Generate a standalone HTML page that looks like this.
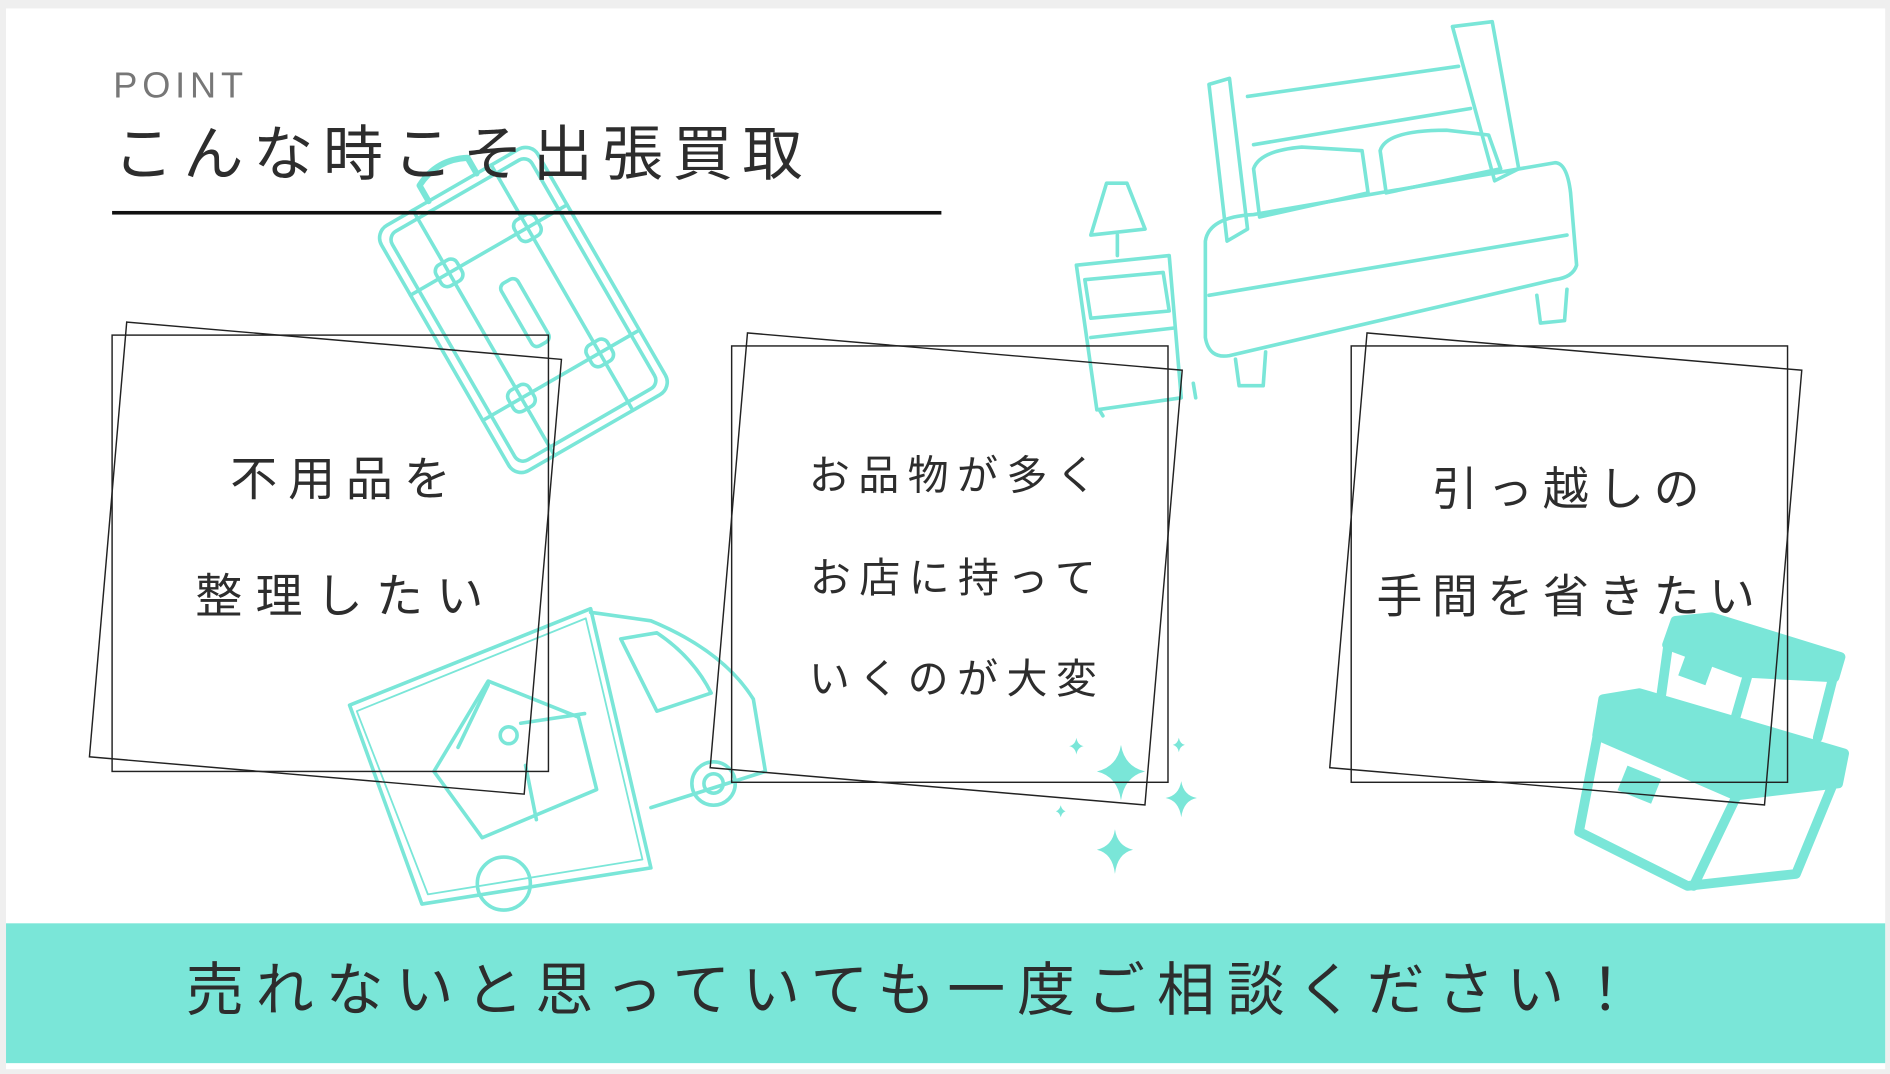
<!DOCTYPE html>
<html><head><meta charset="utf-8"><style>
html,body{margin:0;padding:0;background:#efefef;}
svg{display:block}
</style></head><body>
<svg width="1890" height="1074" viewBox="0 0 1568 891" xmlns="http://www.w3.org/2000/svg">
<rect x="0" y="0" width="1568" height="891" fill="#efefef"/>
<rect x="5" y="7" width="1559" height="880" fill="#ffffff"/>
<g fill="none" stroke="#7ae6d8" stroke-width="3" stroke-linecap="round" stroke-linejoin="round">
 <g transform="rotate(-30 433 255)">
  <rect x="358" y="140" width="150" height="235" rx="12"/>
  <rect x="366" y="148" width="134" height="219" rx="8"/>
  <line x1="395" y1="140" x2="395" y2="375"/><line x1="470" y1="140" x2="470" y2="375"/>
  <line x1="358" y1="200" x2="508" y2="200"/><line x1="358" y1="320" x2="508" y2="320"/>
  <rect x="385" y="190" width="20" height="20" rx="6"/><rect x="460" y="190" width="20" height="20" rx="6"/>
  <rect x="385" y="310" width="20" height="20" rx="6"/><rect x="460" y="310" width="20" height="20" rx="6"/>
  <path d="M410 140 v-15 q23 -12 46 0 v15" stroke-width="5"/>
  <rect x="425" y="230" width="16" height="60" rx="5"/>
 </g>
 <path d="M290 585 L490 505 L540 720 L350 750 Z"/>
 <path d="M296 590 L486 513 L533 713 L355 742 Z" stroke-width="1.5"/>
 <path d="M490 508 L540 515 Q600 540 625 580 L635 640 L540 670"/>
 <path d="M515 530 L545 525 Q575 545 590 575 L545 590 Z"/>
 <circle cx="418" cy="733" r="22"/><circle cx="592" cy="650" r="18"/><circle cx="592" cy="650" r="8"/>
 <path d="M360 640 L405 565 L480 595 L495 655 L400 695 Z"/>
 <path d="M380 620 L405 568"/><path d="M432 600 L485 592"/>
 <circle cx="422" cy="610" r="7"/>
 <path d="M436 635 L445 680"/>
 <path d="M905 195 L918 152 L935 152 L950 190 Z"/>
 <line x1="927" y1="195" x2="927" y2="212"/>
 <path d="M893 220 L970 212 L980 330 L910 340 Z"/>
 <path d="M900 232 L965 226 L970 258 L905 264 Z"/>
 <line x1="905" y1="280" x2="975" y2="272"/>
 <line x1="912" y1="340" x2="915" y2="345"/><line x1="990" y1="318" x2="992" y2="330"/>
 <path d="M1003 70 L1020 65 L1035 190 L1018 200 Z"/>
 <path d="M1205 22 L1238 18 L1260 140 L1240 150 Z"/>
 <path d="M1035 80 L1210 55"/><path d="M1040 120 L1220 90"/>
 <path d="M1040 140 Q1045 125 1080 122 L1130 125 L1135 160 L1045 180 Z"/>
 <path d="M1145 125 Q1150 108 1200 108 L1235 112 L1245 140 L1150 160 Z"/>
 <path d="M1000 200 Q1003 180 1040 178 L1290 135 Q1300 135 1303 160 L1308 220 Q1305 230 1290 232 L1020 295 Q1003 298 1000 280 Z"/>
 <path d="M1003 245 L1300 195"/>
 <path d="M1025 298 L1028 320 L1048 320 L1050 292"/>
 <path d="M1275 245 L1278 268 L1298 266 L1300 240"/>
 <g fill="#7ae6d8" stroke="none">
  <path d="M930 618 Q933 636 950 640 Q933 644 930 664 Q927 644 910 640 Q927 636 930 618Z"/>
  <path d="M980 648 Q982 660 993 662 Q982 664 980 678 Q978 664 967 662 Q978 660 980 648Z"/>
  <path d="M925 688 Q927 702 940 705 Q927 708 925 725 Q923 708 910 705 Q923 702 925 688Z"/>
  <path d="M893 612 Q894 618 899 619 Q894 620 893 626 Q892 620 887 619 Q892 618 893 612Z"/>
  <path d="M978 612 Q979 617 983 618 Q979 619 978 624 Q977 619 973 618 Q977 617 978 612Z"/>
  <path d="M880 668 Q881 672 884 673 Q881 674 880 678 Q879 674 876 673 Q879 672 880 668Z"/>
 </g>
 <g stroke-width="8">
  <path d="M1390 515 L1420 512 L1527 545 L1522 562 L1445 558 L1383 535 Z" fill="#7ae6d8"/>
  <path d="M1384 535 L1375 600 L1435 612 L1450 560"/>
  <path d="M1520 565 L1508 612"/>
  <path d="M1330 580 L1360 575 L1530 625 L1525 650 L1440 660 L1325 610 Z" fill="#7ae6d8"/>
  <path d="M1325 612 L1310 690 L1400 735 L1490 725 L1520 652"/>
  <path d="M1440 662 L1405 735"/>
 </g>
 <rect x="1395" y="545" width="24" height="20" fill="#7ae6d8" stroke="none" transform="rotate(20 1407 555)"/>
 <rect x="1345" y="640" width="30" height="22" fill="#7ae6d8" stroke="none" transform="rotate(22 1360 651)"/>
</g>
<text x="94" y="81" font-family="'Liberation Sans',sans-serif" font-size="30" fill="#777" letter-spacing="4">POINT</text>
<text x="94" y="145" font-family="'Liberation Sans','Noto Sans CJK JP',sans-serif" font-size="50" fill="#2d2d2d" letter-spacing="8">こんな時こそ出張買取</text>
<rect x="93" y="175" width="688" height="3" fill="#111"/>
<g fill="none" stroke="#222" stroke-width="1.2">
 <rect x="93" y="278" width="362" height="362"/>
 <rect x="89" y="282" width="362" height="362" transform="rotate(4.9 270 463)"/>
 <rect x="607" y="287" width="362" height="362"/>
 <rect x="604" y="291" width="362" height="362" transform="rotate(4.9 785 472)"/>
 <rect x="1121" y="287" width="362" height="362"/>
 <rect x="1118" y="291" width="362" height="362" transform="rotate(4.9 1299 472)"/>
</g>
<g font-family="'Liberation Sans','Noto Sans CJK JP',sans-serif" fill="#2d2d2d" text-anchor="middle">
 <text x="287" y="411" font-size="39" letter-spacing="9">不用品を</text>
 <text x="287" y="508" font-size="39" letter-spacing="11">整理したい</text>
 <text x="794" y="406" font-size="34" letter-spacing="7">お品物が多く</text>
 <text x="794" y="491" font-size="34" letter-spacing="7">お店に持って</text>
 <text x="794" y="575" font-size="34" letter-spacing="7">いくのが大変</text>
 <text x="1303" y="419" font-size="38" letter-spacing="8">引っ越しの</text>
 <text x="1303" y="508" font-size="38" letter-spacing="8">手間を省きたい</text>
</g>
<rect x="5" y="766" width="1559" height="116" fill="#7ae6d8"/>
<text x="760" y="838" text-anchor="middle" font-family="'Liberation Sans','Noto Sans CJK JP',sans-serif" font-size="48" fill="#2d2d2d" letter-spacing="10">売れないと思っていても一度ご相談ください！</text>
</svg>
</body></html>
